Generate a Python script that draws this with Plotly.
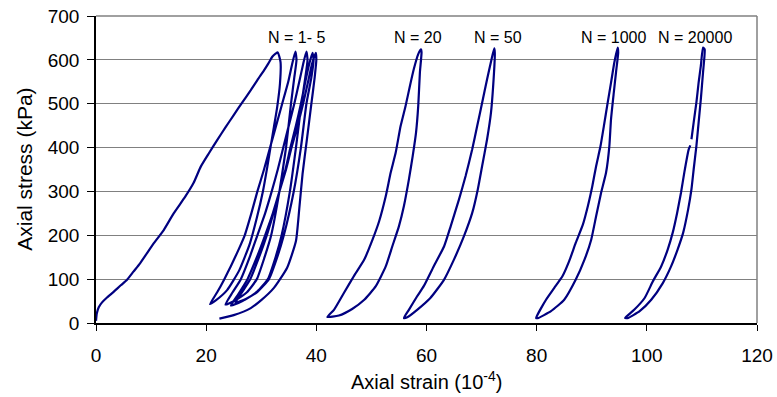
import plotly.graph_objects as go

# ---------------- data ----------------
# N = 1-5 : virgin loading followed by five load/unload branches
n1_5_strain = [
    0, 0.15, 0.5, 1.1, 2.0, 3.2, 4.5, 5.6, 6.8, 8.0, 9.2, 10.5, 12.3, 14.1, 16.2, 17.7, 19.0,
    20.5, 22.0, 23.5, 25.0, 26.5, 28.1, 29.3, 30.5, 31.3, 32.0, 32.6, 33.0,
    33.5, 33.4, 32.9, 32.3, 31.7, 31.1, 30.3, 29.2, 27.9, 26.0, 23.8, 21.8, 20.7,
    22.0, 23.3, 24.5, 25.8, 27.0, 28.2, 29.3, 30.5, 31.6, 32.7, 33.8, 34.9, 35.6, 36.2,
    36.4, 36.0, 35.4, 34.5, 33.3, 31.8, 30.6, 29.2, 27.4, 25.3, 23.5,
    24.8, 26.3, 27.9, 29.3, 30.7, 31.9, 33.0, 34.0, 35.0, 36.0, 36.9, 37.6, 38.2,
    38.4, 38.0, 37.3, 36.3, 35.2, 33.7, 32.6, 31.2, 29.3, 27.2, 25.3,
    26.6, 28.0, 29.6, 31.0, 32.2, 33.3, 34.4, 35.3, 36.3, 37.2, 38.0, 38.7, 39.3,
    39.5, 39.1, 38.2, 37.2, 35.9, 34.1, 32.9, 31.4, 29.2, 26.6, 24.5,
    25.8, 27.5, 29.2, 30.7, 32.1, 33.3, 34.5, 35.5, 36.6, 37.6, 38.5, 39.2, 39.9,
    40.0, 39.7, 39.1, 38.3, 37.5, 36.9, 36.3, 34.7, 32.3, 30.0, 28.1, 25.0, 22.4,
]
n1_5_stress = [
    5, 22, 36, 47, 58, 71, 86, 98, 117, 136, 158, 182, 212, 250, 288, 319, 356,
    387, 417, 446, 474, 502, 531, 554, 576, 592, 607, 614, 617,
    595, 546, 493, 447, 402, 356, 300, 240, 180, 120, 75, 52, 43,
    70, 100, 130, 165, 200, 250, 300, 350, 400, 450, 500, 550, 590, 619,
    600, 560, 500, 400, 300, 200, 150, 100, 70, 52, 42,
    70, 100, 150, 200, 250, 300, 350, 400, 450, 500, 550, 590, 619,
    600, 560, 500, 400, 300, 200, 150, 100, 72, 55, 46,
    72, 100, 150, 200, 250, 300, 350, 400, 450, 500, 550, 590, 616,
    600, 560, 500, 400, 300, 200, 150, 100, 70, 50, 40,
    65, 100, 150, 200, 250, 300, 350, 400, 450, 500, 550, 590, 616,
    600, 560, 500, 420, 340, 260, 187, 126, 80, 52, 34, 18, 10,
]

n20_strain = [42.0, 43.2, 45.0, 46.8, 48.7, 50.2, 51.4, 52.6, 53.5, 54.4, 55.3, 56.2, 57.0, 57.7,
              58.5, 59.0, 59.1, 58.8, 58.5, 58.1, 57.5, 56.8, 55.9, 55.0, 53.8, 52.6, 50.8,
              48.7, 46.5, 44.1, 42.0]
n20_stress = [13.7, 30, 68.5, 106.6, 144.7, 190, 232, 289, 343, 388, 449, 495, 541, 579,
              613, 624, 617, 571, 495, 434, 381, 327, 267, 221, 175, 129, 84,
              53, 32, 17, 13.7]

n50_strain = [55.9, 56.8, 58.3, 59.5, 61.3, 63.2, 64.4, 65.9, 67.1, 68.3, 69.2, 70.1, 71.0, 71.8,
              72.3, 72.4, 72.1, 71.7, 71.0, 70.1, 69.3, 68.3, 66.8, 65.0, 63.2, 60.7, 58.3,
              56.5, 55.9]
n50_stress = [11.4, 30, 61, 84, 129, 175, 221, 282, 335, 396, 449, 502, 556, 601,
              626, 616, 540, 479, 419, 358, 304, 251, 198, 145, 99, 57, 30,
              13, 11.4]

n1000_strain = [79.9, 81.7, 83.2, 84.7, 85.9, 87.1, 88.4, 89.3, 90.1, 90.8, 91.6, 92.2, 92.9, 93.5,
                94.1, 94.7, 94.8, 94.4, 94.0, 93.5, 93.2, 92.6, 91.7, 90.8, 89.9, 88.7, 87.1,
                85.0, 82.6, 80.2, 79.9]
n1000_stress = [11.4, 53, 80, 107, 141, 183, 225, 267, 312, 358, 404, 449, 503, 548,
                594, 628, 617, 571, 525, 465, 404, 343, 297, 244, 190, 145, 99,
                53, 27, 11, 11.4]

n20000_strain = [108.1, 108.5, 109.0, 109.4, 109.8, 110.2, 110.5, 110.2, 109.8, 109.4, 109.0, 108.5,
                 108.1, 107.5, 106.6, 105.6, 104.4, 102.9, 100.8, 98.7, 96.5, 96.05, 97.7, 99.6,
                 101.1, 102.6, 103.8, 104.7, 105.5, 106.2, 106.8, 107.6, 107.9]
n20000_stress = [419, 457, 503, 548, 586, 628, 624, 571, 510, 457, 404, 350,
                 305, 259, 206, 168, 129, 91, 53, 27, 11, 11.4, 30, 57,
                 95, 129, 168, 206, 251, 297, 343, 396, 405]

label_texts = ["N = 1- 5", "N = 20", "N = 50", "N = 1000", "N = 20000"]
label_x = [36.4, 58.45, 72.9, 94.0, 108.8]
label_y = [651, 651, 651, 651, 651]

x_ticks = [0, 20, 40, 60, 80, 100, 120]
y_ticks = [0, 100, 200, 300, 400, 500, 600, 700]

# ---------------- figure ----------------
FONT = "Arial, Liberation Sans, sans-serif"
LINE = dict(color="#000080", width=2.2)

fig = go.Figure()
for xs, ys in [(n1_5_strain, n1_5_stress), (n20_strain, n20_stress), (n50_strain, n50_stress),
               (n1000_strain, n1000_stress), (n20000_strain, n20000_stress)]:
    fig.add_trace(go.Scatter(x=xs, y=ys, mode="lines", line=dict(**LINE, shape="spline", smoothing=0.5),
                             showlegend=False, hoverinfo="skip", cliponaxis=False))

for t, x, y in zip(label_texts, label_x, label_y):
    fig.add_annotation(x=x, y=y, xref="x", yref="y", text=t, showarrow=False,
                       font=dict(family=FONT, size=16, color="black"), yanchor="middle")

fig.add_annotation(x=0.5, y=-0.1876, xref="paper", yref="paper", text="Axial strain (10<sup>-4</sup>)",
                   showarrow=False, font=dict(family=FONT, size=20, color="black"), yanchor="middle")
fig.add_annotation(x=-0.1085, y=0.5, xref="paper", yref="paper", text="Axial stress (kPa)",
                   showarrow=False, textangle=-90, font=dict(family=FONT, size=21, color="black"),
                   xanchor="center", yanchor="middle")

# grey plot-area border on the top and right
fig.add_shape(type="line", x0=1, x1=1, y0=0, y1=1, xref="paper", yref="paper",
              line=dict(color="#808080", width=1.5), layer="above")
fig.add_shape(type="line", x0=0, x1=1, y0=1, y1=1, xref="paper", yref="paper",
              line=dict(color="#808080", width=1.5), layer="above")

fig.update_layout(
    width=777, height=397,
    margin=dict(l=96, r=20, t=16, b=74, autoexpand=False),
    paper_bgcolor="white", plot_bgcolor="white",
    font=dict(family=FONT, color="black"),
    xaxis=dict(range=[0, 120], tickvals=x_ticks, showgrid=False, zeroline=False, automargin=False,
               showline=True, linecolor="black", linewidth=1.5, ticklabeloverflow="allow",
               ticks="outside", ticklen=6, tickcolor="black", tickwidth=1,
               tickfont=dict(family=FONT, size=19, color="black"), ticklabelstandoff=8),
    yaxis=dict(range=[0, 700], tickvals=y_ticks, showgrid=True, gridcolor="#808080", gridwidth=1,
               zeroline=False, showline=True, linecolor="black", linewidth=1.5, automargin=False,
               ticklabeloverflow="allow",
               ticks="outside", ticklen=7, tickcolor="black", tickwidth=1,
               tickfont=dict(family=FONT, size=19, color="black"), ticklabelstandoff=4),
)

# remove the browser's default 8px body margin so the figure sits at the window's top-left corner
fig.write_html("out.html", config={"displayModeBar": False},
               post_script="document.body.style.margin='0px';")
